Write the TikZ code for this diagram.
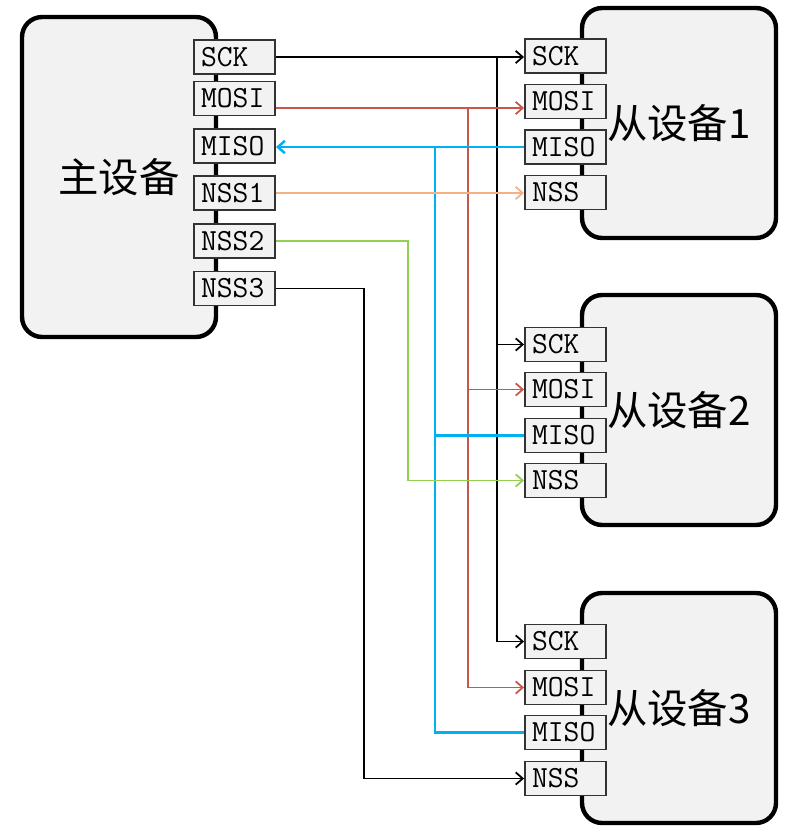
\documentclass[tikz,border=0pt]{standalone}
\usepackage{fontspec}
\usepackage{xcolor}
\usetikzlibrary{arrows.meta}
\newfontfamily\cjk{Noto Sans CJK SC}
\definecolor{boxfill}{HTML}{F2F2F2}
\definecolor{pinedge}{HTML}{333333}
\definecolor{mosired}{HTML}{C8574B}
\definecolor{misoblue}{HTML}{00B0F0}
\definecolor{nssorange}{HTML}{F4B183}
\definecolor{nssgreen}{HTML}{92D050}

\begin{document}
\begin{tikzpicture}[
  x=0.02cm, y=-0.02cm,
  dev/.style={draw=black,line width=2.5pt,fill=boxfill,rounded corners=0.4cm,
    minimum width=3.88cm,minimum height=#1,font=\cjk\fontsize{23}{23}\selectfont},
  dev/.default=4.6cm,
  pin/.style={draw=pinedge,line width=1.1pt,fill=boxfill,minimum height=0.68cm,
    text width=1.34cm,inner xsep=0.14cm,inner ysep=0pt,align=left,
    font=\ttfamily\fontsize{17.5}{17.5}\selectfont},
  wire/.style={line width=1pt,-{Straight Barb[length=4pt,width=7pt]}},
  bus/.style={line width=1pt}
  ]
\useasboundingbox (0,0) rectangle (800,832);
% devices
\node[dev=6.4cm] (master) at (119,177) {主设备};
\node[dev] (slave1) at (679,123) {从设备1};
\node[dev] (slave2) at (679,410) {从设备2};
\node[dev] (slave3) at (679,708) {从设备3};
% master pins
\node[pin] (mSCK)  at (234.5,57)   {SCK};
\node[pin] (mMOSI) at (234.5,98.5) {MOSI};
\node[pin] (mMISO) at (234.5,146)  {MISO};
\node[pin] (mNSS1) at (234.5,193)  {NSS1};
\node[pin] (mNSS2) at (234.5,241)  {NSS2};
\node[pin] (mNSS3) at (234.5,288.5){NSS3};
% slave pins
\node[pin] (s1SCK)  at (565.5,56)    {SCK};
\node[pin] (s1MOSI) at (565.5,101.5) {MOSI};
\node[pin] (s1MISO) at (565.5,147)   {MISO};
\node[pin] (s1NSS)  at (565.5,192.5) {NSS};
\node[pin] (s2SCK)  at (565.5,344.5) {SCK};
\node[pin] (s2MOSI) at (565.5,389.5) {MOSI};
\node[pin] (s2MISO) at (565.5,435.5) {MISO};
\node[pin] (s2NSS)  at (565.5,480.5) {NSS};
\node[pin] (s3SCK)  at (565.5,641.5) {SCK};
\node[pin] (s3MOSI) at (565.5,687.5) {MOSI};
\node[pin] (s3MISO) at (565.5,732.5) {MISO};
\node[pin] (s3NSS)  at (565.5,778.5) {NSS};
% bus columns
\coordinate (sckbus)  at (497,0);
\coordinate (mosibus) at (468,0);
\coordinate (misobus) at (435,0);
\coordinate (nss2bus) at (408,0);
\coordinate (nss3bus) at (364,0);
\coordinate (mosi)    at (0,108);     % MOSI line height
% SCK
\draw[wire] (mSCK.east) -- (mSCK.east -| s1SCK.west);
\draw[wire] (mSCK.east -| sckbus) |- (s2SCK.west);
\draw[wire] (mSCK.east -| sckbus) |- (s3SCK.west);
% MOSI
\draw[wire,mosired] (mMOSI.east |- mosi) -- (s1MOSI.west |- mosi);
\draw[wire,mosired] (mosibus |- mosi) |- (s2MOSI.west);
\draw[wire,mosired] (mosibus |- mosi) |- (s3MOSI.west);
% MISO
\draw[wire,misoblue,line width=1.4pt] (s1MISO.west) -- (s1MISO.west -| mMISO.east);
\draw[bus,misoblue,line width=1.4pt] (s2MISO.west) -- (s2MISO.west -| misobus);
\draw[bus,misoblue,line width=1.4pt] (s3MISO.west) -| (misobus |- s1MISO.west);
% NSS
\draw[wire,nssorange] (mNSS1.east) -- (mNSS1.east -| s1NSS.west);
\draw[wire,nssgreen] (mNSS2.east) -| (nss2bus |- s2NSS) -- (s2NSS.west);
\draw[wire] (mNSS3.east) -| (nss3bus |- s3NSS) -- (s3NSS.west);
\end{tikzpicture}
\end{document}
